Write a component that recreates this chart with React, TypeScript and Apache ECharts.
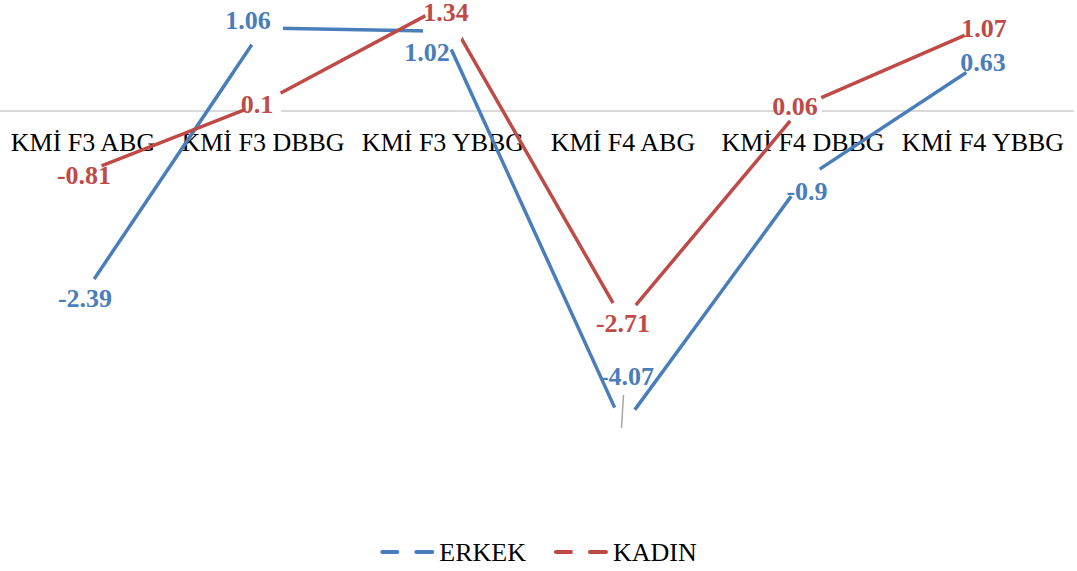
import React, { useEffect, useRef } from 'react';
import * as echarts from 'echarts';

const categories = ['KMİ F3 ABG', 'KMİ F3 DBBG', 'KMİ F3 YBBG', 'KMİ F4 ABG', 'KMİ F4 DBBG', 'KMİ F4 YBBG'];
const erkek = [-2.39, 1.06, 1.02, -4.07, -0.9, 0.63];
const kadin = [-0.81, 0.1, 1.34, -2.71, 0.06, 1.07];
const seriesNames = ['ERKEK', 'KADIN'];

// label offsets (pixels, relative to each point)
const erkekLabelOffsets = [[2, 3], [-15, -8], [-16, 21], [4, -49], [4, 11], [0, 1]];
const kadinLabelOffsets = [[1, 2], [-6, 2], [3, 6], [0, 3], [-8, 1], [1, 1]];

const BLUE = '#4A7EBB';
const RED = '#BE4B48';
const FONT = "'Liberation Serif', 'Times New Roman', serif";

// the chart canvas extends past the page edges so the plot can bleed like the original
const PAD = 20;
const Y_MIN = -5;
const Y_MAX = 1.5;
const GRID_TOP = PAD - 6;
const GRID_HEIGHT = 504;

function makeSeries(name: string, values: number[], offsets: number[][], color: string) {
  return {
    name,
    type: 'line',
    color,
    data: values.map((v, i) => ({ value: v, label: { offset: offsets[i] } })),
    lineStyle: { color, width: 3.5 },
    symbol: 'circle',
    symbolSize: 40,
    itemStyle: { color: '#ffffff', borderWidth: 0 },
    silent: true,
    label: {
      show: true,
      position: 'inside',
      color,
      fontFamily: FONT,
      fontWeight: 'bold',
      fontSize: 26,
    },
    emphasis: { disabled: true },
  };
}

export default function App() {
  const ref = useRef<HTMLDivElement>(null);
  useEffect(() => {
    if (!ref.current) return;
    const chart = echarts.init(ref.current, null, { renderer: 'svg' });
    const zeroFromBottom = (GRID_HEIGHT * (0 - Y_MIN)) / (Y_MAX - Y_MIN);
    chart.setOption({
      animation: false,
      backgroundColor: '#ffffff',
      grid: { left: PAD - 7, width: 1080, top: GRID_TOP, height: GRID_HEIGHT, containLabel: false },
      legend: {
        left: 'center',
        top: PAD + 534,
        icon: 'path://M2,0H17A2,2 0 0 1 17,4H2A2,2 0 0 1 2,0Z M36,0H52A2,2 0 0 1 52,4H36A2,2 0 0 1 36,0Z',
        itemWidth: 54,
        itemHeight: 4,
        itemGap: 28,
        textStyle: { fontFamily: FONT, fontSize: 26, color: '#000' },
        data: [
          { name: seriesNames[0], itemStyle: { color: BLUE, borderWidth: 0 } },
          { name: seriesNames[1], itemStyle: { color: RED, borderWidth: 0 } },
        ],
      },
      xAxis: {
        type: 'category',
        data: categories,
        boundaryGap: true,
        offset: -zeroFromBottom,
        axisLine: { show: true, onZero: false, lineStyle: { color: '#D9D9D9', width: 2 } },
        axisTick: { show: false },
        axisLabel: {
          interval: 0,
          hideOverlap: false,
          margin: 19,
          color: '#000',
          fontFamily: FONT,
          fontSize: 26,
        },
        splitLine: { show: false },
      },
      yAxis: {
        type: 'value',
        min: Y_MIN,
        max: Y_MAX,
        show: false,
        splitLine: { show: false },
      },
      series: [
        makeSeries(seriesNames[0], erkek, erkekLabelOffsets, BLUE),
        makeSeries(seriesNames[1], kadin, kadinLabelOffsets, RED),
      ],
    });
    const p = chart.convertToPixel({ seriesIndex: 0 }, [3, erkek[3]]) as number[];
    if (p) {
      chart.setOption({
        graphic: [
          {
            type: 'line',
            z: 100,
            shape: { x1: p[0] + 0.5, y1: p[1] - 31, x2: p[0] - 1.5, y2: p[1] + 2 },
            style: { stroke: '#A6A6A6', lineWidth: 1.5 },
          },
        ],
      });
    }
    return () => chart.dispose();
  }, []);
  return (
    <div
      ref={ref}
      style={{
        position: 'fixed',
        left: -PAD,
        top: -PAD,
        width: 1077 + 2 * PAD,
        height: 571 + 2 * PAD,
        background: '#fff',
      }}
    />
  );
}
